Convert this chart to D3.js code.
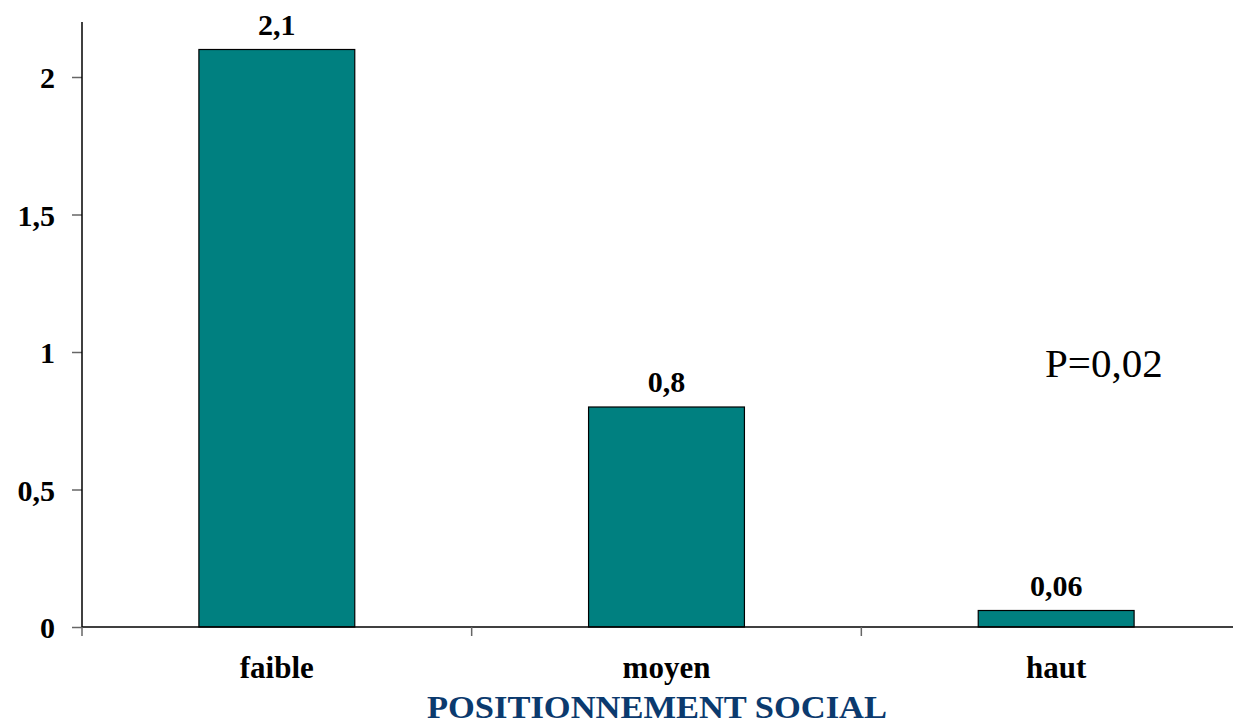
<!DOCTYPE html>
<html>
<head>
<meta charset="utf-8">
<script src="https://cdn.jsdelivr.net/npm/d3@7"></script>
<style>
  html, body { margin: 0; padding: 0; background: #fff; }
  svg { display: block; }
  text { font-family: "Liberation Serif", "Times New Roman", serif; }
</style>
</head>
<body>
<svg id="chart" width="1233" height="725"></svg>
<script>
const categories = ["faible", "moyen", "haut"];
const values = [2.1, 0.8, 0.06];
const valueLabels = ["2,1", "0,8", "0,06"];
const yTicks = [0, 0.5, 1, 1.5, 2];
const yTickLabels = ["0", "0,5", "1", "1,5", "2"];
const xTitle = "POSITIONNEMENT SOCIAL";
const annotation = "P=0,02";

const svg = d3.select("#chart");
const margin = { left: 82, right: -18, top: 22, bottom: 98 };
const W = 1233, H = 725;

const x = d3.scaleBand()
  .domain(categories)
  .range([margin.left, W - margin.right])
  .paddingInner(0.6)
  .paddingOuter(0.3);

const y = d3.scaleLinear()
  .domain([0, 2.2])
  .range([H - margin.bottom, margin.top]);

// bars
svg.append("g").selectAll("rect")
  .data(categories)
  .join("rect")
  .attr("x", d => x(d))
  .attr("width", x.bandwidth())
  .attr("y", (d, i) => y(values[i]))
  .attr("height", (d, i) => y(0) - y(values[i]))
  .attr("fill", "#008080")
  .attr("stroke", "#000")
  .attr("stroke-width", 1.2);

// value labels
svg.append("g").selectAll("text")
  .data(categories)
  .join("text")
  .attr("x", d => x(d) + x.bandwidth() / 2)
  .attr("y", (d, i) => y(values[i]) - 15)
  .attr("text-anchor", "middle")
  .attr("font-weight", "bold")
  .attr("font-size", 30)
  .attr("fill", "#000")
  .text((d, i) => valueLabels[i]);

// y axis
const yAxis = d3.axisLeft(y)
  .tickValues(yTicks)
  .tickFormat((d, i) => yTickLabels[i])
  .tickSize(10)
  .tickPadding(17);
const gy = svg.append("g")
  .attr("transform", `translate(${margin.left},0)`)
  .call(yAxis);
gy.select(".domain").remove();
gy.selectAll(".tick line").attr("stroke", "#666").attr("stroke-width", 1.5);
gy.selectAll(".tick text")
  .attr("font-family", "Liberation Serif, serif")
  .attr("font-weight", "bold")
  .attr("font-size", 30)
  .attr("fill", "#000")
  .attr("dy", "0.36em");
svg.append("line")
  .attr("x1", margin.left).attr("x2", margin.left)
  .attr("y1", y(2.2)).attr("y2", y(0))
  .attr("stroke", "#000").attr("stroke-width", 1.5);

// x axis
const xBoundaries = categories.map(c => x(c) - x.step() * 0.3);
svg.append("line")
  .attr("x1", margin.left).attr("x2", W)
  .attr("y1", y(0)).attr("y2", y(0))
  .attr("stroke", "#000").attr("stroke-width", 1.5);
svg.append("g").selectAll("line")
  .data(xBoundaries)
  .join("line")
  .attr("x1", d => d).attr("x2", d => d)
  .attr("y1", y(0)).attr("y2", y(0) + 9)
  .attr("stroke", "#666").attr("stroke-width", 1.5);

// category labels
svg.append("g").selectAll("text")
  .data(categories)
  .join("text")
  .attr("x", d => x(d) + x.bandwidth() / 2)
  .attr("y", 678)
  .attr("text-anchor", "middle")
  .attr("font-weight", "bold")
  .attr("font-size", 31)
  .attr("fill", "#000")
  .text(d => d);

// x title
svg.append("text")
  .attr("x", 657)
  .attr("y", 718)
  .attr("text-anchor", "middle")
  .attr("font-weight", "bold")
  .attr("font-size", 31)
  .attr("textLength", 460)
  .attr("lengthAdjust", "spacingAndGlyphs")
  .attr("fill", "#0b3a6e")
  .text(xTitle);

// annotation
svg.append("text")
  .attr("x", 1045)
  .attr("y", 377)
  .attr("font-size", 41)
  .attr("fill", "#000")
  .text(annotation);
</script>
</body>
</html>
